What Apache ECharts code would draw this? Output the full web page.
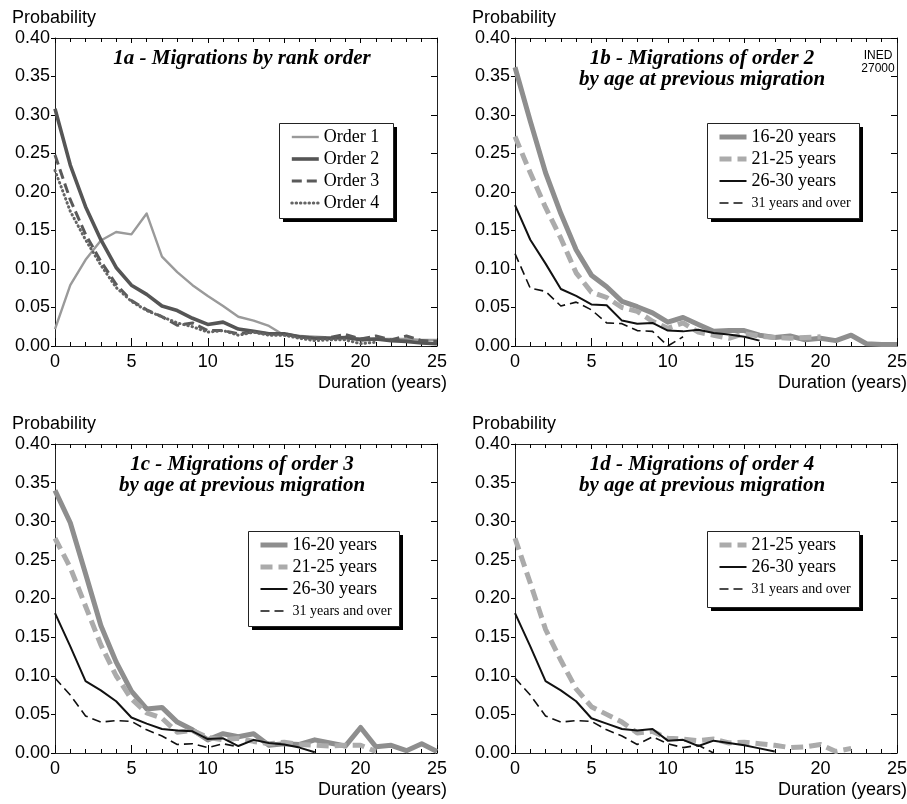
<!DOCTYPE html>
<html>
<head>
<meta charset="utf-8">
<script src="https://cdn.jsdelivr.net/npm/echarts@6/dist/echarts.min.js"></script>
<style>html,body{margin:0;padding:0;background:#fff;}#main{width:907px;height:804px;}</style>
</head>
<body>
<div id="main"></div>
<script>
// ---- Data ----
const years = [0,1,2,3,4,5,6,7,8,9,10,11,12,13,14,15,16,17,18,19,20,21,22,23,24,25];
const yTicks = ['0.00','0.05','0.10','0.15','0.20','0.25','0.30','0.35','0.40'];
const xTicks = ['0','5','10','15','20','25'];

// 1a - Migrations by rank order
const order1 = [0.022,0.079,0.112,0.137,0.148,0.145,0.172,0.116,0.096,0.079,0.065,0.052,0.038,0.033,0.026,0.014,0.013,0.012,0.011,0.010,0.010,0.009,0.009,0.009,0.008,0.008];
const order2 = [0.308,0.235,0.181,0.138,0.102,0.079,0.067,0.052,0.046,0.036,0.028,0.031,0.022,0.019,0.016,0.016,0.012,0.010,0.010,0.011,0.008,0.009,0.007,0.006,0.004,0.003];
const order3 = [0.248,0.190,0.145,0.110,0.080,0.059,0.047,0.038,0.027,0.030,0.020,0.020,0.016,0.018,0.016,0.016,0.012,0.010,0.011,0.015,0.009,0.013,0.008,0.013,0.007,0.006];
const order4 = [0.228,0.175,0.138,0.105,0.076,0.058,0.046,0.038,0.030,0.025,0.018,0.020,0.014,0.018,0.014,0.014,0.010,0.007,0.008,0.008,0.003,0.005];

// 1b - order 2 by age at previous migration
const b16_20 = [0.362,0.292,0.225,0.172,0.125,0.092,0.077,0.058,0.051,0.043,0.031,0.037,0.028,0.019,0.020,0.020,0.014,0.011,0.013,0.008,0.010,0.007,0.014,0.003,0.002,0.002];
const b21_25 = [0.272,0.225,0.180,0.140,0.095,0.070,0.063,0.050,0.045,0.032,0.023,0.030,0.018,0.014,0.010,0.016,0.013,0.011,0.010,0.011,0.012];
const b26_30 = [0.183,0.138,0.107,0.074,0.065,0.054,0.053,0.033,0.029,0.030,0.020,0.019,0.021,0.017,0.015,0.012,0.007];
const b31 = [0.120,0.075,0.071,0.052,0.057,0.047,0.030,0.029,0.020,0.019,0.000,0.012];

// 1c - order 3 by age at previous migration
const c16_20 = [0.340,0.298,0.232,0.165,0.118,0.080,0.057,0.059,0.040,0.030,0.017,0.025,0.021,0.025,0.010,0.012,0.011,0.017,0.013,0.009,0.033,0.008,0.010,0.003,0.012,0.002];
const c21_25 = [0.278,0.240,0.190,0.140,0.100,0.070,0.052,0.045,0.027,0.029,0.020,0.017,0.019,0.015,0.012,0.014,0.011,0.010,0.009,0.010,0.010,0.002];
const c26_30 = [0.181,0.138,0.093,0.081,0.067,0.046,0.038,0.031,0.029,0.028,0.018,0.019,0.009,0.017,0.013,0.011,0.007,0.001];
const c31 = [0.097,0.075,0.048,0.040,0.042,0.041,0.030,0.022,0.011,0.012,0.007,0.012,0.008];

// 1d - order 4 by age at previous migration
const d21_25 = [0.278,0.220,0.160,0.120,0.083,0.060,0.050,0.040,0.026,0.028,0.019,0.018,0.016,0.018,0.013,0.014,0.012,0.010,0.007,0.008,0.011,0.002,0.006];
const d26_30 = [0.181,0.138,0.093,0.081,0.067,0.045,0.038,0.031,0.029,0.031,0.016,0.017,0.009,0.016,0.013,0.010,0.006,0.002];
const d31 = [0.097,0.075,0.048,0.040,0.042,0.041,0.030,0.022,0.011,0.021,0.012,0.007,0.010,0.000];

const titles = [
  '1a - Migrations by rank order',
  '1b - Migrations of order 2\nby age at previous migration',
  '1c - Migrations of order 3\nby age at previous migration',
  '1d - Migrations of order 4\nby age at previous migration'
];

// ---- Layout ----
const grids = [
  {left:55, top:38, width:382, height:308},
  {left:515, top:38, width:382, height:308},
  {left:55, top:444, width:382, height:309},
  {left:515, top:444, width:382, height:309}
];

const SANS = 'Liberation Sans, Arial, sans-serif';
const SERIF = 'Liberation Serif, Times New Roman, serif';

const styles = {
  'Order 1': {color:'#9a9a9a', width:2.4, type:'solid'},
  'Order 2': {color:'#555555', width:3.6, type:'solid'},
  'Order 3': {color:'#5a5a5a', width:3, type:[10,5]},
  'Order 4': {color:'#646464', width:3, type:[0.5,3.8], cap:'round'},
  '16-20 years': {color:'#8e8e8e', width:5, type:'solid'},
  '21-25 years': {color:'#ababab', width:5, type:[12,6]},
  '26-30 years': {color:'#111111', width:2, type:'solid'},
  '31 years and over': {color:'#111111', width:1.6, type:[9,5]}
};

function pairs(arr){ return arr.map((v,i)=>[years[i], v]); }

const panelSeries = [
  [['Order 1',order1],['Order 2',order2],['Order 3',order3],['Order 4',order4]],
  [['16-20 years',b16_20],['21-25 years',b21_25],['26-30 years',b26_30],['31 years and over',b31]],
  [['16-20 years',c16_20],['21-25 years',c21_25],['26-30 years',c26_30],['31 years and over',c31]],
  [['21-25 years',d21_25],['26-30 years',d26_30],['31 years and over',d31]]
];

const xAxes = [], yAxes = [], series = [], legends = [], graphics = [];
const tickCol = '#000';
grids.forEach((g, gi) => {
  xAxes.push({
    gridIndex: gi, type:'value', min:0, max:25, interval:5, position:'bottom',
    axisLine:{show:true, onZero:false, lineStyle:{color:'#222', width:1}},
    axisTick:{show:true, inside:true, length:8, lineStyle:{color:tickCol}},
    minorTick:{show:true, splitNumber:5, length:4, lineStyle:{color:tickCol}},
    splitLine:{show:false},
    axisLabel:{show:true, fontSize:18, fontFamily:SANS, color:'#000', margin:7,
      formatter: v => xTicks.includes(String(v)) ? String(v) : ''}
  });
  xAxes.push({
    gridIndex: gi, type:'value', min:0, max:25, interval:5, position:'top',
    axisLine:{show:true, onZero:false, lineStyle:{color:'#222', width:1}},
    axisTick:{show:true, inside:true, length:5, lineStyle:{color:tickCol}},
    minorTick:{show:true, splitNumber:5, length:4, lineStyle:{color:tickCol}},
    splitLine:{show:false}, axisLabel:{show:false}
  });
  yAxes.push({
    gridIndex: gi, type:'value', min:0, max:0.4, interval:0.05, position:'left',
    axisLine:{show:true, onZero:false, lineStyle:{color:'#222', width:1}},
    axisTick:{show:true, inside:false, length:4, lineStyle:{color:tickCol}},
    splitLine:{show:false},
    axisLabel:{show:true, fontSize:18, fontFamily:SANS, color:'#000', margin:5,
      formatter: v => yTicks[Math.round(v/0.05)]}
  });
  yAxes.push({
    gridIndex: gi, type:'value', min:0, max:0.4, interval:0.05, position:'right',
    axisLine:{show:true, onZero:false, lineStyle:{color:'#222', width:1}},
    axisTick:{show:true, inside:true, length:6, lineStyle:{color:tickCol}},
    splitLine:{show:false}, axisLabel:{show:false}
  });
  panelSeries[gi].forEach(([name, arr]) => {
    const s = styles[name];
    series.push({
      type:'line', name, xAxisIndex: gi*2, yAxisIndex: gi*2,
      data: pairs(arr), symbol:'none', smooth:false, silent:true,
      lineStyle:{color:s.color, width:s.width, type:s.type, cap:s.cap || 'butt', join:'round'},
      itemStyle:{color:s.color}, animation:false
    });
  });
  // Title text
  const cx = g.left + g.width/2 - 4;
  graphics.push({
    type:'text', x: cx, y: g.top + 10, z: 5,
    style:{text: titles[gi], fill:'#000', font:'italic bold 21px ' + SERIF,
      textAlign:'center', textVerticalAlign:'top', lineHeight:21}
  });
  // Probability label
  graphics.push({
    type:'text', x: g.left - 43, y: g.top - 29,
    style:{text:'Probability', fill:'#000', font:'18px ' + SANS, textAlign:'left', textVerticalAlign:'top'}
  });
  // Duration label
  graphics.push({
    type:'text', x: g.left + g.width + 10, y: g.top + g.height + 28,
    style:{text:'Duration (years)', fill:'#000', font:'18px ' + SANS, textAlign:'right', textVerticalAlign:'top'}
  });
});

graphics.push({
  type:'text', x: 878, y: 49,
  style:{text:'INED\n27000', fill:'#000', font:'12px Liberation Sans Narrow, ' + SANS, textAlign:'center', textVerticalAlign:'top', lineHeight:13}
});

const legendPos = [
  {left:279, top:123, w:114, h:95, padding:[5,14,6,11]},
  {left:707, top:123, w:152, h:95, padding:[5,6,6,10]},
  {left:248, top:531, w:151, h:95, padding:[5,6,6,10]},
  {left:707, top:531, w:152, h:76, padding:[5,6,6,10]}
];
legendPos.forEach((p, i) => {
  // legend frame with hard drop shadow
  graphics.push({
    type:'rect', z: 3, silent:true,
    shape:{x:p.left + 4, y:p.top + 4, width:p.w, height:p.h},
    style:{fill:'#000'}
  });
  graphics.push({
    type:'rect', z: 3, silent:true,
    shape:{x:p.left + 0.5, y:p.top + 0.5, width:p.w, height:p.h},
    style:{fill:'#fff', stroke:'#222', lineWidth:1}
  });
  legends.push({
    show:true, orient:'vertical', left:p.left, top:p.top, padding:p.padding, z: 6,
    data: panelSeries[i].map(d => {
      const s = styles[d[0]];
      return {
        name: d[0],
        itemStyle:{opacity:0},
        lineStyle:{color:s.color, width:s.width, type:s.type, cap:s.cap || 'butt', opacity:1}
      };
    }),
    itemWidth:27, itemHeight:14, itemGap:4, selectedMode:false,
    backgroundColor:'transparent', borderWidth:0,
    textStyle:{fontFamily:SERIF, fontSize:18, color:'#000', lineHeight:18,
      rich:{s:{fontFamily:SERIF, fontSize:14, color:'#000', lineHeight:18}}},
    formatter: n => n === '31 years and over' ? '{s|' + n + '}' : n
  });
});

const chart = echarts.init(document.getElementById('main'), null, {renderer:'canvas'});
chart.setOption({
  backgroundColor:'#fff',
  animation:false,
  grid: grids.map(g => Object.assign({outerBoundsMode:'none', containLabel:false}, g)),
  xAxis: xAxes,
  yAxis: yAxes,
  legend: legends,
  series: series,
  graphic: graphics
});
</script>
</body>
</html>
